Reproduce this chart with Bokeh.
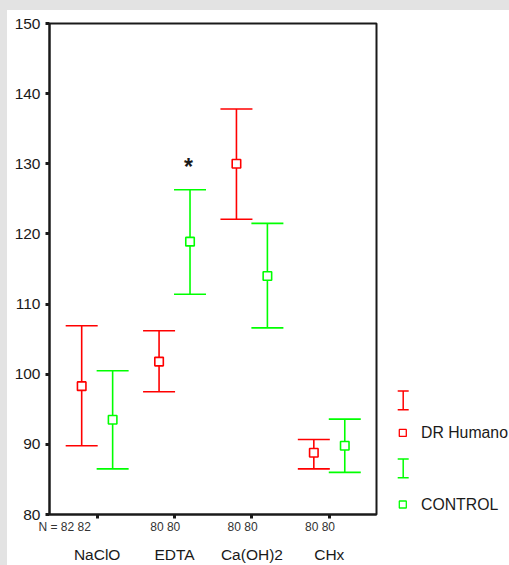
import numpy as np
from bokeh.plotting import figure
from bokeh.models import (Range1d, FixedTicker, LinearAxis, Whisker, TeeHead, ColumnDataSource,
                          CustomLabelingPolicy)
from bokeh.layouts import row
from bokeh.embed import file_html
from bokeh.resources import INLINE
from bokeh.core.properties import value

# ---------------- data ----------------
categories = ["NaClO", "EDTA", "Ca(OH)2", "CHx"]
series_names = ["DR Humano", "CONTROL"]
n_dr = [82, 80, 80, 80]
n_ctrl = [82, 80, 80, 80]
dr_mean = [98.3, 101.8, 130.0, 88.8]
dr_lower = [89.8, 97.5, 122.1, 86.5]
dr_upper = [106.9, 106.2, 137.8, 90.7]
ctrl_mean = [93.5, 118.9, 114.0, 89.8]
ctrl_lower = [86.5, 111.4, 106.6, 86.0]
ctrl_upper = [100.5, 126.3, 121.5, 93.6]
y_ticks = [80, 90, 100, 110, 120, 130, 140, 150]
sig_category = "EDTA"
sig_value = 130.0

# ---------------- style ----------------
FONT = "Liberation Sans"
RED = "#ff0000"
GREEN = "#00ff00"
INK = "#1a1a1a"
DODGE = 0.2
N_SHIFT = [-0.42, -0.12, -0.12, -0.12]
W_MAIN, W_LEG, H = 380, 122, 555
B_TOP, B_BOTTOM = 13, 50

cat_pos = np.arange(1, len(categories) + 1)

p = figure(width=W_MAIN, height=H,
           x_range=Range1d(0.384, 4.61), y_range=Range1d(80, 150),
           output_backend="svg", toolbar_location=None,
           min_border_left=42, min_border_right=11, min_border_top=B_TOP, min_border_bottom=B_BOTTOM,
           background_fill_color="white", border_fill_color="white")
p.grid.visible = False
p.outline_line_color = INK
p.outline_line_width = 2

yax = p.yaxis[0]
yax.ticker = FixedTicker(ticks=y_ticks)
yax.minor_tick_line_color = None
yax.major_tick_in = 0
yax.major_tick_out = 4
yax.major_tick_line_width = 3
yax.major_tick_line_color = INK
yax.axis_line_width = 2
yax.axis_line_color = INK
yax.major_label_text_font = FONT
yax.major_label_text_font_size = "15.5px"
yax.major_label_text_color = INK
yax.major_label_standoff = 5

# main x axis: line + tick marks only
xax = p.xaxis[0]
xax.ticker = FixedTicker(ticks=[int(c) for c in cat_pos])
xax.minor_tick_line_color = None
xax.major_tick_in = 0
xax.major_tick_out = 4
xax.major_tick_line_width = 3
xax.major_tick_line_color = INK
xax.axis_line_width = 2
xax.axis_line_color = INK
xax.major_label_text_font_size = "0px"
xax.major_label_standoff = 0
xax.major_label_policy = CustomLabelingPolicy(code="for (const i of indices) indices.unset(i)")

# N row
n_pos = [float(c + s) for c, s in zip(cat_pos, N_SHIFT)]
n_labels = []
for i, (a, b) in enumerate(zip(n_dr, n_ctrl)):
    lab = f"{a} {b}"
    if i == 0:
        lab = "N = " + lab
    n_labels.append(lab)
axis_n = LinearAxis(ticker=FixedTicker(ticks=n_pos),
                    major_label_overrides={pos: lab for pos, lab in zip(n_pos, n_labels)},
                    axis_line_color=None, major_tick_line_color=None, minor_tick_line_color=None,
                    major_tick_in=0, major_tick_out=0, major_label_standoff=1,
                    major_label_text_font=FONT, major_label_text_font_size="12px",
                    major_label_text_color="#333333")
p.add_layout(axis_n, "below")

# category names
axis_cat = LinearAxis(ticker=FixedTicker(ticks=[int(c) for c in cat_pos]),
                      major_label_overrides={int(c): name for c, name in zip(cat_pos, categories)},
                      axis_line_color=None, major_tick_line_color=None, minor_tick_line_color=None,
                      major_tick_in=0, major_tick_out=0, major_label_standoff=9,
                      major_label_text_font=FONT, major_label_text_font_size="15.5px",
                      major_label_text_color=INK)
p.add_layout(axis_cat, "below")

# error bars + means
for shift, color, mean, lo, hi in [(-DODGE, RED, dr_mean, dr_lower, dr_upper),
                                   (DODGE, GREEN, ctrl_mean, ctrl_lower, ctrl_upper)]:
    src = ColumnDataSource(dict(x=cat_pos + shift, mean=mean, lower=lo, upper=hi))
    w = Whisker(source=src, base="x", lower="lower", upper="upper", level="underlay",
                line_color=color, line_width=1.6,
                upper_head=TeeHead(size=32, line_color=color, line_width=1.6),
                lower_head=TeeHead(size=32, line_color=color, line_width=1.6))
    p.add_layout(w)
    p.scatter("x", "mean", source=src, marker="square", size=8.5,
              fill_color="white", line_color=color, line_width=1.6)

sig_x = cat_pos[categories.index(sig_category)] + DODGE - 0.02
p.text(x=[sig_x], y=[sig_value], text=["*"], text_font=value(FONT),
       text_font_size="23px", text_font_style="bold", text_color=INK,
       text_align="center", text_baseline="middle", y_offset=3)

# ---------------- legend panel ----------------
pl = figure(width=W_LEG, height=H, x_range=Range1d(0, W_LEG), y_range=Range1d(H - B_BOTTOM, B_TOP),
            x_axis_type=None, y_axis_type=None, output_backend="svg", toolbar_location=None,
            min_border_left=0, min_border_right=0, min_border_top=B_TOP, min_border_bottom=B_BOTTOM,
            outline_line_color=None,
            background_fill_color="white", border_fill_color="white")
pl.grid.visible = False

LEG_X = 15.7
LEG_TEXT_X = 33.5
leg_rows = [(381.3, 400.0, 423.3), (449.3, 468.3, 495.0)]
for (top, bot, sq_y), color, name in zip(leg_rows, [RED, GREEN], series_names):
    s = ColumnDataSource(dict(x=[LEG_X], lower=[bot], upper=[top]))
    pl.add_layout(Whisker(source=s, base="x", lower="lower", upper="upper",
                          line_color=color, line_width=1.5,
                          upper_head=TeeHead(size=11, line_color=color, line_width=1.5),
                          lower_head=TeeHead(size=11, line_color=color, line_width=1.5)))
    pl.scatter([LEG_X - 0.4], [sq_y], marker="square", size=7, fill_color="white",
               line_color=color, line_width=1.3)
    pl.text(x=[LEG_TEXT_X], y=[sq_y], text=[name], text_font=value(FONT),
            text_font_size="15.8px", text_color=INK, text_align="left", text_baseline="middle")

layout = row(p, pl)
html = file_html(layout, INLINE, title="chart")
html = html.replace("</head>",
                    "<style>html,body{overflow:hidden !important;background:#ffffff !important;}"
                    "body{margin:0 !important;border-top:10px solid #e3e3e3;"
                    "border-left:7px solid #e3e3e3;}</style></head>", 1)
open("out.html", "w").write(html)
